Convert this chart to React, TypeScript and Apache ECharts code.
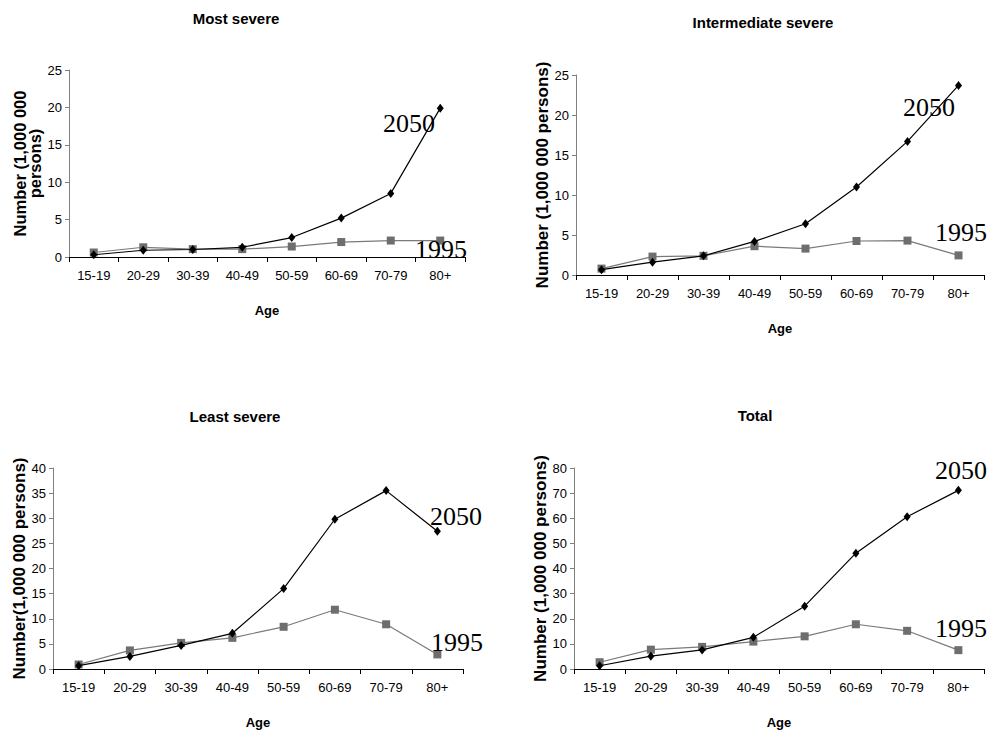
import React, { useEffect, useRef } from "react";
import * as echarts from "echarts";

const ageGroups = ["15-19", "20-29", "30-39", "40-49", "50-59", "60-69", "70-79", "80+"];

const mostSevere2050 = [0.3, 0.9, 1.0, 1.3, 2.6, 5.2, 8.5, 19.9];
const mostSevere1995 = [0.6, 1.3, 1.05, 1.05, 1.4, 2.0, 2.2, 2.2];

const intermediate2050 = [0.67, 1.6, 2.4, 4.2, 6.4, 11.0, 16.7, 23.7];
const intermediate1995 = [0.8, 2.3, 2.4, 3.6, 3.3, 4.25, 4.3, 2.45];

const leastSevere2050 = [0.67, 2.5, 4.7, 7.1, 16.0, 29.8, 35.5, 27.4];
const leastSevere1995 = [0.9, 3.7, 5.2, 6.2, 8.4, 11.8, 8.9, 2.9];

const total2050 = [1.3, 5.1, 7.6, 12.6, 25.0, 46.1, 60.6, 71.1];
const total1995 = [2.7, 7.7, 8.8, 10.9, 13.0, 17.8, 15.2, 7.5];

const panelTitles = ["Most severe", "Intermediate severe", "Least severe", "Total"];
const yAxisNames = [
  "Number (1,000 000\npersons)",
  "Number (1,000 000 persons)",
  "Number(1,000 000 persons)",
  "Number (1,000 000 persons)",
];
const yMax = [25, 25, 40, 80];
const yInterval = [5, 5, 5, 10];
const seriesYears = ["2050", "1995"];

const FONT = "'Liberation Sans', Arial, Helvetica, sans-serif";
const SERIF = "'Liberation Serif', 'Times New Roman', serif";

// layout
const grids = [
  { left: 69, top: 70, width: 396, height: 187 },
  { left: 576, top: 75, width: 408, height: 200 },
  { left: 53, top: 468, width: 410, height: 201 },
  { left: 574, top: 468, width: 410, height: 201 },
];
const titlePos = [
  { x: 236, y: 11 },
  { x: 763, y: 15 },
  { x: 235, y: 409 },
  { x: 755, y: 408 },
];
const yNameGap = [26, 25, 23, 24];
const yNameSize = [16.5, 17, 17, 17];
const yearLabelPos = [
  [{ x: 409, y: 123 }, { x: 441, y: 249 }],
  [{ x: 929, y: 107 }, { x: 961, y: 232 }],
  [{ x: 456, y: 516 }, { x: 457, y: 642 }],
  [{ x: 961, y: 470 }, { x: 961, y: 628 }],
];

export default function App() {
  const ref = useRef<HTMLDivElement>(null);
  useEffect(() => {
    if (!ref.current) return;
    const chart = echarts.init(ref.current, undefined, { renderer: "svg" });
    const data = [
      [mostSevere2050, mostSevere1995],
      [intermediate2050, intermediate1995],
      [leastSevere2050, leastSevere1995],
      [total2050, total1995],
    ];
    const series: any[] = [];
    data.forEach((pair, i) => {
      series.push({
        type: "line",
        name: seriesYears[0],
        xAxisIndex: i,
        yAxisIndex: i,
        data: pair[0],
        symbol: "diamond",
        symbolSize: [7, 9],
        lineStyle: { color: "#000", width: 1.2 },
        itemStyle: { color: "#000" },
        z: 3,
      });
      series.push({
        type: "line",
        name: seriesYears[1],
        xAxisIndex: i,
        yAxisIndex: i,
        data: pair[1],
        symbol: "rect",
        symbolSize: 8,
        lineStyle: { color: "#7a7a7a", width: 1.2 },
        itemStyle: { color: "#6e6e6e" },
        z: 2,
      });
    });
    const graphics: any[] = [];
    yearLabelPos.forEach((pos) => {
      pos.forEach((p, j) => {
        graphics.push({
          type: "text",
          x: p.x,
          y: p.y,
          z: 10,
          style: {
            text: seriesYears[j],
            font: `26px ${SERIF}`,
            fill: "#000",
            align: "center",
            verticalAlign: "middle",
          },
        });
      });
    });
    chart.setOption({
      animation: false,
      backgroundColor: "#fff",
      title: panelTitles.map((t, i) => ({
        text: t,
        left: titlePos[i].x,
        top: titlePos[i].y,
        textAlign: "center",
        padding: 0,
        textStyle: { fontFamily: FONT, fontSize: 15, fontWeight: "bold", color: "#000" },
      })),
      grid: grids.map((g) => ({ ...g, containLabel: false })),
      xAxis: grids.map((_, i) => ({
        type: "category",
        gridIndex: i,
        data: ageGroups,
        boundaryGap: true,
        name: "Age",
        nameLocation: "middle",
        nameGap: 47,
        nameTextStyle: { fontFamily: FONT, fontSize: 13, fontWeight: "bold", color: "#000" },
        axisLine: { lineStyle: { color: "#000", width: 1 } },
        axisTick: { show: true, alignWithLabel: false, length: 5, lineStyle: { color: "#000" } },
        axisLabel: { fontFamily: FONT, fontSize: 13, color: "#000", margin: 12, interval: 0 },
        splitLine: { show: false },
      })),
      yAxis: grids.map((_, i) => ({
        type: "value",
        gridIndex: i,
        min: 0,
        max: yMax[i],
        interval: yInterval[i],
        name: yAxisNames[i],
        nameLocation: "middle",
        nameGap: yNameGap[i],
        nameRotate: 90,
        nameTextStyle: {
          fontFamily: FONT,
          fontSize: yNameSize[i],
          fontWeight: "bold",
          color: "#000",
          lineHeight: 15,
        },
        axisLine: { show: true, lineStyle: { color: "#808080", width: 1 } },
        axisTick: { show: true, length: 4, lineStyle: { color: "#808080" } },
        axisLabel: { fontFamily: FONT, fontSize: 13, color: "#000", margin: 7 },
        splitLine: { show: false },
      })),
      series,
      graphic: graphics,
    });
    return () => chart.dispose();
  }, []);
  return (
    <div
      ref={ref}
      style={{ position: "fixed", left: 0, top: 0, width: 994, height: 735, background: "#fff" }}
    />
  );
}
